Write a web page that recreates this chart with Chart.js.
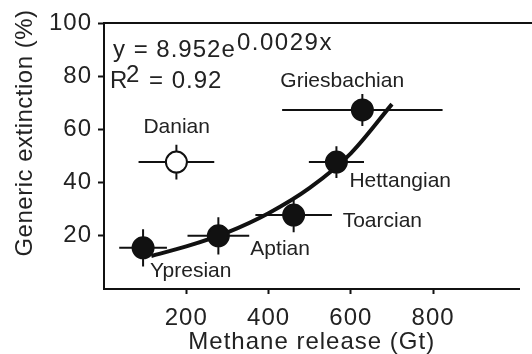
<!DOCTYPE html>
<html>
<head>
<meta charset="utf-8">
<script src="https://cdn.jsdelivr.net/npm/chart.js@4"></script>
<style>
  html, body { margin: 0; padding: 0; background: #fff; }
  #wrap { width: 532px; height: 354px; }
</style>
</head>
<body>
<div id="wrap"><canvas id="chart"></canvas></div>
<script>
// ===== DATA =====
const stages = ['Ypresian', 'Danian', 'Aptian', 'Toarcian', 'Hettangian', 'Griesbachian'];
const methane = [95, 176, 278, 461, 565, 628];
const extinction = [15.5, 47.7, 20, 27.8, 47.7, 67.3];
const methaneErr = [58, 92, 75, 93, 67, 195];
const extinctionErr = [7, 6.5, 7, 6.5, 6, 6];
const filled = [true, false, true, true, true, true];
const fitX = [115, 200, 300, 400, 500, 600, 700];
const fitY = [12.4, 16, 21.3, 28.5, 38, 51, 69.5];
const xTicks = [200, 400, 600, 800];
const yTicks = [20, 40, 60, 80, 100];

const ink = '#111', textCol = '#222';
const fam = '"Liberation Sans", Arial, sans-serif';

// label offsets from each point centre (px)
const labelOffsets = {
  Ypresian: [7, 29], Danian: [-33, -29], Aptian: [32, 19],
  Toarcian: [49, 12], Hettangian: [13, 25], Griesbachian: [-82, -23]
};

// ===== PLUGINS =====
// the figure's axis lettering is a little wider than Liberation Sans
const spacing = {
  id: 'spacing',
  beforeLayout(chart) { chart.ctx.letterSpacing = '1px'; },
  beforeDraw(chart) { chart.ctx.letterSpacing = '1px'; }
};

const errorBars = {
  id: 'errorBars',
  beforeDatasetsDraw(chart) {
    const { ctx, scales: { x, y } } = chart;
    ctx.save();
    ctx.strokeStyle = ink; ctx.lineWidth = 2;
    methane.forEach((m, i) => {
      const px = x.getPixelForValue(m), py = y.getPixelForValue(extinction[i]);
      ctx.beginPath();
      ctx.moveTo(x.getPixelForValue(m - methaneErr[i]), py);
      ctx.lineTo(x.getPixelForValue(m + methaneErr[i]), py);
      ctx.moveTo(px, y.getPixelForValue(extinction[i] - extinctionErr[i]));
      ctx.lineTo(px, y.getPixelForValue(extinction[i] + extinctionErr[i]));
      ctx.stroke();
    });
    ctx.restore();
  }
};

const annotations = {
  id: 'annotations',
  afterDraw(chart) {
    const { ctx, chartArea, scales: { x, y } } = chart;
    ctx.save();
    // top frame line
    ctx.strokeStyle = ink; ctx.lineWidth = 2;
    ctx.beginPath();
    ctx.moveTo(chartArea.left - 1, chartArea.top);
    ctx.lineTo(chart.width, chartArea.top);
    ctx.stroke();

    ctx.fillStyle = textCol;
    ctx.textAlign = 'left';
    ctx.textBaseline = 'alphabetic';
    ctx.letterSpacing = '0px';
    ctx.font = '21px ' + fam;
    stages.forEach((s, i) => {
      const o = labelOffsets[s];
      ctx.fillText(s, x.getPixelForValue(methane[i]) + o[0], y.getPixelForValue(extinction[i]) + o[1]);
    });

    // fit equation
    ctx.letterSpacing = '1px';
    ctx.font = '24px ' + fam;
    ctx.fillText('y = 8.952e', 113, 57);
    ctx.letterSpacing = '1.5px';
    ctx.fillText('0.0029x', 237, 50);
    ctx.letterSpacing = '1px';
    ctx.fillText('R', 110, 88);
    ctx.fillText('2', 126, 82);
    ctx.fillText('= 0.92', 149, 88);

    // y axis title (sits above the axis centre in the figure)
    ctx.letterSpacing = '0.5px';
    ctx.translate(25, 133);
    ctx.rotate(-Math.PI / 2);
    ctx.textAlign = 'center';
    ctx.textBaseline = 'middle';
    ctx.fillText('Generic extinction (%)', 0, 0);
    ctx.restore();
  }
};

// ===== CHART =====
new Chart(document.getElementById('chart'), {
  type: 'scatter',
  data: {
    datasets: [
      {
        label: 'Exponential fit',
        data: fitX.map((v, i) => ({ x: v, y: fitY[i] })),
        showLine: true, borderColor: ink, borderWidth: 4,
        pointRadius: 0, cubicInterpolationMode: 'monotone', order: 2
      },
      {
        label: 'Events',
        data: methane.map((v, i) => ({ x: v, y: extinction[i] })),
        pointRadius: 10.5, pointBorderWidth: 2,
        pointBackgroundColor: filled.map(f => f ? ink : '#fff'),
        pointBorderColor: ink, order: 1
      }
    ]
  },
  options: {
    responsive: true, maintainAspectRatio: false, animation: false,
    layout: { padding: { top: 23, left: 0, right: 0, bottom: 0 } },
    plugins: { legend: { display: false }, tooltip: { enabled: false } },
    scales: {
      x: {
        type: 'linear', min: 0, max: 1010,
        afterBuildTicks: s => { s.ticks = xTicks.map(v => ({ value: v })); },
        afterFit: s => { s.height = 65; },
        grid: { drawOnChartArea: false, tickLength: 5, tickWidth: 2, tickColor: ink },
        border: { color: ink, width: 2 },
        ticks: { color: textCol, font: { family: fam, size: 24 }, padding: 10 },
        title: { display: true, text: 'Methane release (Gt)', color: textCol, font: { family: fam, size: 24, lineHeight: 1 }, padding: 0 }
      },
      y: {
        type: 'linear', min: 0, max: 100,
        afterBuildTicks: s => { s.ticks = yTicks.map(v => ({ value: v })); },
        afterFit: s => { s.width = 104; },
        grid: { drawOnChartArea: false, tickLength: 6, tickWidth: 2, tickColor: ink },
        border: { color: ink, width: 2 },
        ticks: { color: textCol, font: { family: fam, size: 24 }, padding: 6 },
        title: { display: false }
      }
    }
  },
  plugins: [spacing, errorBars, annotations]
});
</script>
</body>
</html>
